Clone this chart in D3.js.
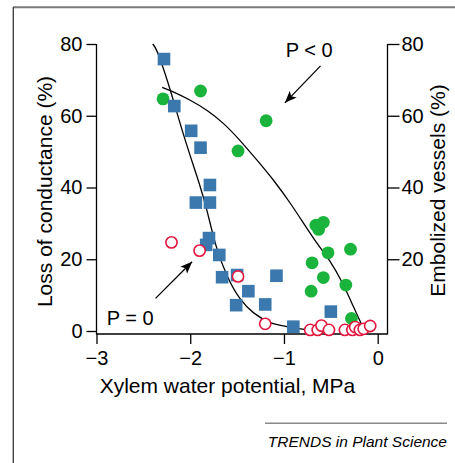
<!DOCTYPE html>
<html>
<head>
<meta charset="utf-8">
<script src="https://cdn.jsdelivr.net/npm/d3@7"></script>
<style>
  body { margin: 0; background: #fff; }
  svg { display: block; font-family: 'Liberation Sans', Arial, sans-serif; }
</style>
</head>
<body>
<svg id="chart"></svg>
<script>
// loss of conductance (blue squares)
var conductance = [
  {'x': -2.28, 'y': 75.8}, {'x': -2.17, 'y': 62.7}, {'x': -1.99, 'y': 55.8},
  {'x': -1.89, 'y': 51.1}, {'x': -1.79, 'y': 40.7}, {'x': -1.94, 'y': 35.8},
  {'x': -1.79, 'y': 35.8}, {'x': -1.80, 'y': 25.9}, {'x': -1.83, 'y': 24.0},
  {'x': -1.69, 'y': 21.2}, {'x': -1.66, 'y': 15.0}, {'x': -1.50, 'y': 15.6},
  {'x': -1.38, 'y': 11.1}, {'x': -1.51, 'y': 7.2}, {'x': -1.20, 'y': 7.4},
  {'x': -1.08, 'y': 15.4}, {'x': -0.90, 'y': 1.2}, {'x': -0.50, 'y': 5.4}
];

// embolized vessels, P = 0 (open red circles)
var embolizedP0 = [
  {'x': -2.20, 'y': 24.7}, {'x': -1.90, 'y': 22.4}, {'x': -1.49, 'y': 15.2},
  {'x': -1.20, 'y': 2.0}, {'x': -0.72, 'y': 0.3}, {'x': -0.64, 'y': 0.3},
  {'x': -0.60, 'y': 1.5}, {'x': -0.52, 'y': 0.3}, {'x': -0.35, 'y': 0.3},
  {'x': -0.27, 'y': 0.3}, {'x': -0.24, 'y': 1.1}, {'x': -0.19, 'y': 0.3},
  {'x': -0.15, 'y': 0.6}, {'x': -0.08, 'y': 1.4}
];

// embolized vessels, P < 0 (green dots)
var embolizedPneg = [
  {'x': -2.29, 'y': 64.7}, {'x': -1.89, 'y': 66.9}, {'x': -1.19, 'y': 58.6},
  {'x': -1.49, 'y': 50.2}, {'x': -0.66, 'y': 29.5}, {'x': -0.58, 'y': 30.3},
  {'x': -0.63, 'y': 28.3}, {'x': -0.53, 'y': 21.8}, {'x': -0.29, 'y': 22.8},
  {'x': -0.70, 'y': 19.0}, {'x': -0.58, 'y': 14.9}, {'x': -0.34, 'y': 12.8},
  {'x': -0.71, 'y': 11.1}, {'x': -0.28, 'y': 3.5}
];

// fitted curves
var curveP0 = [
  [-2.40, 80.0], [-2.35, 78.3], [-2.21, 67.2], [-2.07, 54.2], [-1.89, 40.2],
  [-1.82, 33.7], [-1.73, 23.5], [-1.61, 15.1], [-1.47, 8.6], [-1.33, 4.9],
  [-1.15, 2.1], [-0.97, 1.2], [-0.77, 0.4]
];
var curvePneg = [
  [-2.30, 67.9], [-2.18, 66.7], [-2.00, 64.4], [-1.82, 61.6], [-1.64, 57.9],
  [-1.47, 53.2], [-1.29, 47.7], [-1.11, 42.1], [-0.93, 35.6], [-0.79, 30.0],
  [-0.65, 24.4], [-0.51, 19.8], [-0.37, 13.3], [-0.26, 6.8], [-0.17, 1.7]
];

var xTicks = [-3, -2, -1, 0];
var leftTicks = [0, 20, 40, 60, 80];
var rightTicks = [20, 40, 60, 80];

var labels = [
  {'text': 'P < 0', 'x': -0.73, 'y': 78.3},
  {'text': 'P = 0', 'x': -2.64, 'y': 3.6}
];
var arrows = [
  {'x1': -0.61, 'y1': 73.9, 'x2': -0.99, 'y2': 63.6},
  {'x1': -2.37, 'y1': 9.1, 'x2': -1.98, 'y2': 19.3}
];

var width = 455;
var height = 463;
var axisLeftX = 96.5;
var axisRightX = 387.5;
var axisBottomY = 334;

var blue = '#3a78ad';
var green = '#1ab43c';
var red = '#e3173e';

var svg = d3.select('#chart')
  .attr('width', width)
  .attr('height', height);

var x = d3.scaleLinear().domain([-3, 0]).range([axisLeftX, 377.7]);
var y = d3.scaleLinear().domain([0, 80]).range([331, 44]);

// outer frame
svg.append('line')
  .attr('x1', 13).attr('y1', 7.3).attr('x2', width).attr('y2', 7.3)
  .attr('stroke', '#7a7a7a').attr('stroke-width', 2);
svg.append('line')
  .attr('x1', 13.3).attr('y1', 7).attr('x2', 13.3).attr('y2', height)
  .attr('stroke', '#444').attr('stroke-width', 1.4);

svg.append('defs').append('marker')
  .attr('id', 'arrowHead')
  .attr('viewBox', '0 0 10 10')
  .attr('refX', 10).attr('refY', 5)
  .attr('markerUnits', 'userSpaceOnUse')
  .attr('markerWidth', 12).attr('markerHeight', 12)
  .attr('orient', 'auto')
  .append('path')
  .attr('d', 'M0,1 L10,5 L0,9 L2.5,5 Z')
  .attr('fill', '#000');

// axes
var leftAxis = svg.append('g')
  .attr('transform', 'translate(' + axisLeftX + ',0)')
  .call(d3.axisLeft(y).tickValues(leftTicks).tickSize(10).tickPadding(4).tickSizeOuter(0));

var rightAxis = svg.append('g')
  .attr('transform', 'translate(' + axisRightX + ',0)')
  .call(d3.axisRight(y).tickValues(rightTicks).tickSize(12).tickPadding(2).tickSizeOuter(0));

var bottomAxis = svg.append('g')
  .attr('transform', 'translate(0,' + axisBottomY + ')')
  .call(d3.axisBottom(x).tickValues(xTicks).tickSize(10).tickPadding(7).tickSizeOuter(0)
    .tickFormat(function(d) { return d < 0 ? '\u2212' + Math.abs(d) : d; }));

[leftAxis, rightAxis, bottomAxis].forEach(function(g) {
  g.select('.domain').remove();
  g.selectAll('line').attr('stroke', '#000').attr('stroke-width', 1.3);
  g.selectAll('text')
    .attr('fill', '#000')
    .style('font-family', "'Liberation Sans', Arial, sans-serif")
    .style('font-size', '20px');
});

svg.append('path')
  .attr('d', 'M' + axisLeftX + ',' + y(80) + 'V' + axisBottomY + 'H' + axisRightX + 'V' + y(80))
  .attr('fill', 'none')
  .attr('stroke', '#000')
  .attr('stroke-width', 1.3);

// axis titles
svg.append('text')
  .attr('x', 227.5).attr('y', 393)
  .attr('text-anchor', 'middle')
  .style('font-size', '21px')
  .text('Xylem water potential, MPa');

svg.append('text')
  .attr('transform', 'translate(52,191.5) rotate(-90)')
  .attr('text-anchor', 'middle')
  .style('font-size', '21px')
  .text('Loss of conductance (%)');

svg.append('text')
  .attr('transform', 'translate(445,190.5) rotate(-90)')
  .attr('text-anchor', 'middle')
  .style('font-size', '21px')
  .text('Embolized vessels (%)');

// curves
var line = d3.line()
  .x(function(d) { return x(d[0]); })
  .y(function(d) { return y(d[1]); })
  .curve(d3.curveBasis);

[curveP0, curvePneg].forEach(function(c) {
  svg.append('path')
    .attr('d', line(c))
    .attr('fill', 'none')
    .attr('stroke', '#000')
    .attr('stroke-width', 1.3);
});

// points
svg.append('g').selectAll('circle')
  .data(embolizedPneg)
  .enter().append('circle')
  .attr('cx', function(d) { return x(d.x); })
  .attr('cy', function(d) { return y(d.y); })
  .attr('r', 6.4)
  .attr('fill', green);

var sq = 12.6;
svg.append('g').selectAll('rect')
  .data(conductance)
  .enter().append('rect')
  .attr('x', function(d) { return x(d.x) - sq / 2; })
  .attr('y', function(d) { return y(d.y) - sq / 2; })
  .attr('width', sq)
  .attr('height', sq)
  .attr('fill', blue);

svg.append('g').selectAll('circle')
  .data(embolizedP0)
  .enter().append('circle')
  .attr('cx', function(d) { return x(d.x); })
  .attr('cy', function(d) { return y(d.y); })
  .attr('r', 5.6)
  .attr('fill', '#fff')
  .attr('stroke', red)
  .attr('stroke-width', 1.6);

// annotations
arrows.forEach(function(a) {
  svg.append('line')
    .attr('x1', x(a.x1)).attr('y1', y(a.y1))
    .attr('x2', x(a.x2)).attr('y2', y(a.y2))
    .attr('stroke', '#000')
    .attr('stroke-width', 1.3)
    .attr('marker-end', 'url(#arrowHead)');
});

labels.forEach(function(l) {
  svg.append('text')
    .attr('x', x(l.x)).attr('y', y(l.y))
    .attr('dy', '0.35em')
    .attr('text-anchor', 'middle')
    .style('font-size', '20px')
    .text(l.text);
});

// source line
svg.append('line')
  .attr('x1', 265).attr('y1', 423.3).attr('x2', 447).attr('y2', 423.3)
  .attr('stroke', '#888').attr('stroke-width', 1.5);
svg.append('text')
  .attr('x', 447).attr('y', 447)
  .attr('text-anchor', 'end')
  .style('font-size', '15.5px')
  .style('font-style', 'italic')
  .text('TRENDS in Plant Science');
</script>
</body>
</html>
